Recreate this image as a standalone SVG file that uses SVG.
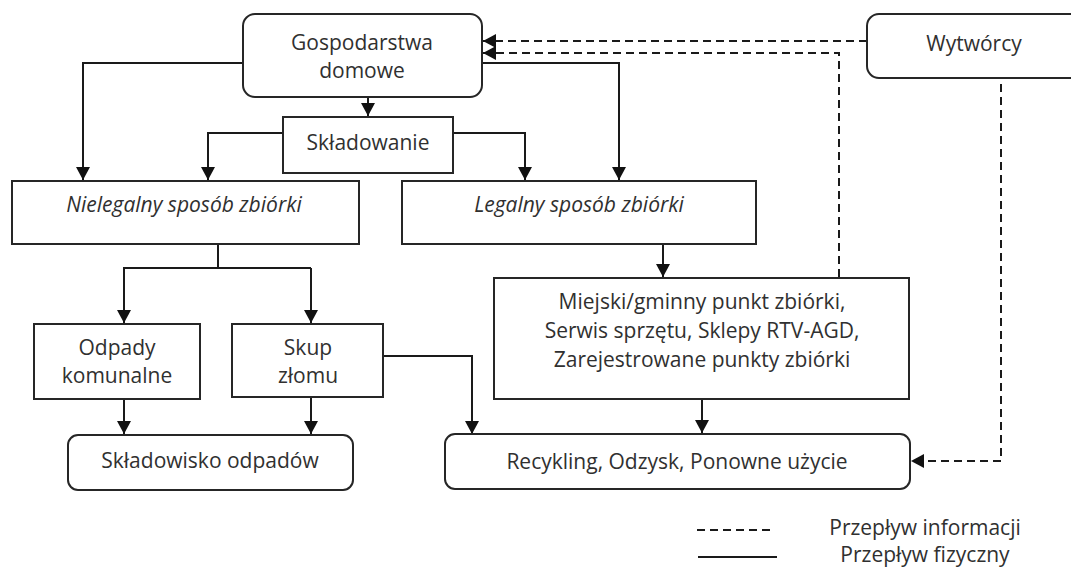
<svg xmlns="http://www.w3.org/2000/svg" width="1071" height="567" viewBox="0 0 1071 567">
<style>
  .box { fill: #ffffff; stroke: #262626; stroke-width: 2; }
  .t { font-family: "Open Sans", "Liberation Sans", sans-serif; font-size: 21px; fill: #303030; text-anchor: middle; }
  .it { font-style: italic; }
  .line { fill: none; stroke: #1a1a1a; stroke-width: 2; }
  .dash { fill: none; stroke: #1a1a1a; stroke-width: 2; stroke-dasharray: 8 5; }
</style>
<defs>
  <marker id="arr" viewBox="0 0 13 14" refX="13" refY="7" markerWidth="13" markerHeight="14" markerUnits="userSpaceOnUse" orient="auto">
    <path d="M0,0 L13,7 L0,14 z" fill="#111111"/>
  </marker>
</defs>
<rect width="1071" height="567" fill="#ffffff"/>

<g id="connectors">
  <path class="line" d="M243,63 H83 V180" marker-end="url(#arr)"/>
  <path class="line" d="M482,63 H619 V180" marker-end="url(#arr)"/>
  <path class="line" d="M368,97 V116" marker-end="url(#arr)"/>
  <path class="line" d="M283,133 H208 V180" marker-end="url(#arr)"/>
  <path class="line" d="M453,133 H525 V180" marker-end="url(#arr)"/>
  <path class="line" d="M218,244 V268"/>
  <path class="line" d="M123,268 H311"/>
  <path class="line" d="M124,268 V323" marker-end="url(#arr)"/>
  <path class="line" d="M311,268 V323" marker-end="url(#arr)"/>
  <path class="line" d="M663,244 V277" marker-end="url(#arr)"/>
  <path class="line" d="M124,399 V434" marker-end="url(#arr)"/>
  <path class="line" d="M311,397 V434" marker-end="url(#arr)"/>
  <path class="line" d="M383,356 H472 V434" marker-end="url(#arr)"/>
  <path class="line" d="M702,399 V433" marker-end="url(#arr)"/>
  <path class="dash" d="M867,41 H483" marker-end="url(#arr)"/>
  <path class="dash" d="M839,277 V53 H483" marker-end="url(#arr)"/>
  <path class="dash" d="M1001,84 V461 H911" marker-end="url(#arr)"/>
</g>

<g id="gospodarstwa">
  <rect class="box" x="243" y="14" width="239" height="83" rx="12"/>
  <text class="t" x="362" y="50">Gospodarstwa</text>
  <text class="t" x="362" y="78">domowe</text>
</g>
<g id="wytworcy">
  <rect class="box" x="867" y="14" width="220" height="64" rx="12"/>
  <text class="t" x="974" y="51">Wytwórcy</text>
</g>
<g id="skladowanie">
  <rect class="box" x="283" y="117" width="170" height="56"/>
  <text class="t" x="368" y="150">Składowanie</text>
</g>
<g id="nielegalny">
  <rect class="box" x="12" y="181" width="347" height="63"/>
  <text class="t it" x="184" y="212">Nielegalny sposób zbiórki</text>
</g>
<g id="legalny">
  <rect class="box" x="402" y="181" width="354" height="63"/>
  <text class="t it" x="579" y="212">Legalny sposób zbiórki</text>
</g>
<g id="miejski">
  <rect class="box" x="494" y="278" width="415" height="121"/>
  <text class="t" x="702" y="309">Miejski/gminny punkt zbiórki,</text>
  <text class="t" x="702" y="338">Serwis sprzętu, Sklepy RTV-AGD,</text>
  <text class="t" x="702" y="367">Zarejestrowane punkty zbiórki</text>
</g>
<g id="odpady">
  <rect class="box" x="34" y="324" width="166" height="75"/>
  <text class="t" x="117" y="355">Odpady</text>
  <text class="t" x="117" y="383">komunalne</text>
</g>
<g id="skup">
  <rect class="box" x="232" y="324" width="151" height="73"/>
  <text class="t" x="308" y="355">Skup</text>
  <text class="t" x="308" y="383">złomu</text>
</g>
<g id="skladowisko">
  <rect class="box" x="68" y="435" width="285" height="55" rx="10"/>
  <text class="t" x="210" y="468">Składowisko odpadów</text>
</g>
<g id="recykling">
  <rect class="box" x="445" y="434" width="465" height="55" rx="10"/>
  <text class="t" x="677" y="469">Recykling, Odzysk, Ponowne użycie</text>
</g>

<g id="legend">
  <line class="dash" x1="697" y1="530" x2="772" y2="530"/>
  <line class="line" x1="698" y1="557" x2="777" y2="557"/>
  <text class="t" x="925" y="535">Przepływ informacji</text>
  <text class="t" x="925" y="562">Przepływ fizyczny</text>
</g>
</svg>
